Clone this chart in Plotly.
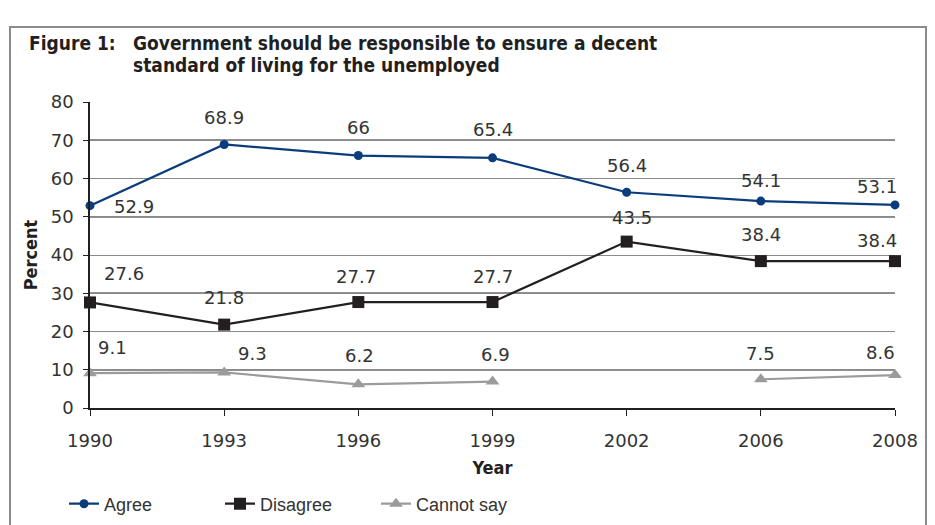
import plotly.graph_objects as go

# Survey years (categorical x axis) and percentages per response
years = ["1990", "1993", "1996", "1999", "2002", "2006", "2008"]
agree = [52.9, 68.9, 66, 65.4, 56.4, 54.1, 53.1]
disagree = [27.6, 21.8, 27.7, 27.7, 43.5, 38.4, 38.4]
cannot_say = [9.1, 9.3, 6.2, 6.9, None, 7.5, 8.6]
y_ticks = [0, 10, 20, 30, 40, 50, 60, 70, 80]

# Pixel nudges for the value labels (dx, dy), one per year
agree_nudge = [(44, -1), (0, 27), (0, 28), (0, 28), (0, 27), (0, 21), (-18, 18)]
disagree_nudge = [(34, 29), (0, 27), (-2, 26), (0, 26), (5, 24), (0, 27), (-18, 21)]
cannot_nudge = [(22, 26), (28, 19), (1, 29), (3, 27), (0, 0), (0, 26), (-15, 23)]

W, H = 935, 525
ML, MR, MT, MB = 90, 40, 102, 117
PW, PH = W - ML - MR, H - MT - MB


def px(x):
    return (x - ML) / PW


def py(y):
    return (H - MB - y) / PH


TEXT = "#333333"
NUM_FONT = dict(family="DejaVu Sans", size=18, color=TEXT)
COND = "DejaVu Sans Condensed, DejaVu Sans, sans-serif"

series = [
    ("Agree", agree, "#0b3d7d", dict(symbol="circle", size=9), agree_nudge),
    ("Disagree", disagree, "#231f20", dict(symbol="square", size=12), disagree_nudge),
    ("Cannot say", cannot_say, "#9b9b9b", dict(symbol="triangle-up", size=12), cannot_nudge),
]

fig = go.Figure()
annotations = []
for name, vals, color, marker, nudge in series:
    fig.add_trace(go.Scatter(
        x=years, y=vals, name=name, mode="lines+markers",
        line=dict(color=color, width=2.2),
        marker=dict(color=color, **marker),
        connectgaps=False, cliponaxis=False,
    ))
    for i, (v, (dx, dy)) in enumerate(zip(vals, nudge)):
        if v is None:
            continue
        annotations.append(dict(
            x=i, y=v, xref="x", yref="y", text=f"{v:g}", showarrow=False,
            xshift=dx, yshift=dy, font=NUM_FONT,
        ))

# Title lines
title_font = dict(family=COND, size=19, color="#231f20")
annotations += [
    dict(x=px(27), y=py(43), xref="paper", yref="paper", text="<b>Figure 1:</b>",
         showarrow=False, xanchor="left", yanchor="middle", font=title_font),
    dict(x=px(131), y=py(43), xref="paper", yref="paper",
         text="<b>Government should be responsible to ensure a decent</b>",
         showarrow=False, xanchor="left", yanchor="middle", font=title_font),
    dict(x=px(131), y=py(65), xref="paper", yref="paper",
         text="<b>standard of living for the unemployed</b>",
         showarrow=False, xanchor="left", yanchor="middle", font=title_font),
]

shapes = [
    # outer frame
    dict(type="rect", xref="paper", yref="paper",
         x0=px(10), x1=px(926), y0=py(540), y1=py(27),
         line=dict(color="#8c8c8c", width=2), layer="below"),
]
# darker grid lines at odd tens
for v in y_ticks:
    if v % 20 == 10:
        shapes.append(dict(type="line", xref="paper", yref="y", x0=0, x1=1, y0=v, y1=v,
                           line=dict(color="#222222", width=1.4), layer="between"))

fig.update_layout(
    width=W, height=H,
    margin=dict(l=ML, r=MR, t=MT, b=MB, autoexpand=False),
    paper_bgcolor="white", plot_bgcolor="white",
    annotations=annotations, shapes=shapes,
    showlegend=True,
    legend=dict(orientation="h", x=px(64), y=py(504), xanchor="left", yanchor="middle",
                font=dict(family="Liberation Sans, sans-serif", size=18, color=TEXT),
                entrywidth=111, itemwidth=30, bgcolor="rgba(0,0,0,0)"),
    xaxis=dict(
        type="category", range=[0, len(years) - 1], automargin=False,
        showline=True, linecolor="#231f20", linewidth=1.5,
        ticks="outside", ticklen=6, tickcolor="#231f20", tickwidth=1.2,
        showgrid=False, zeroline=False,
        tickfont=NUM_FONT, ticklabelstandoff=10,
        title=dict(text="<b>Year</b>", font=dict(family=COND, size=18, color="#231f20"),
                   standoff=11),
    ),
    yaxis=dict(
        range=[0, 80], tickvals=y_ticks, automargin=False,
        showline=True, linecolor="#231f20", linewidth=1.5,
        ticks="outside", ticklen=5, tickcolor="#231f20", tickwidth=1.2,
        showgrid=True, gridcolor="#8a8a8a", gridwidth=1.4, zeroline=False,
        tickfont=NUM_FONT, ticklabelstandoff=6,
        title=dict(text="<b>Percent</b>", font=dict(family=COND, size=18, color="#231f20"),
                   standoff=8),
    ),
)

fig.write_html("out.html")
